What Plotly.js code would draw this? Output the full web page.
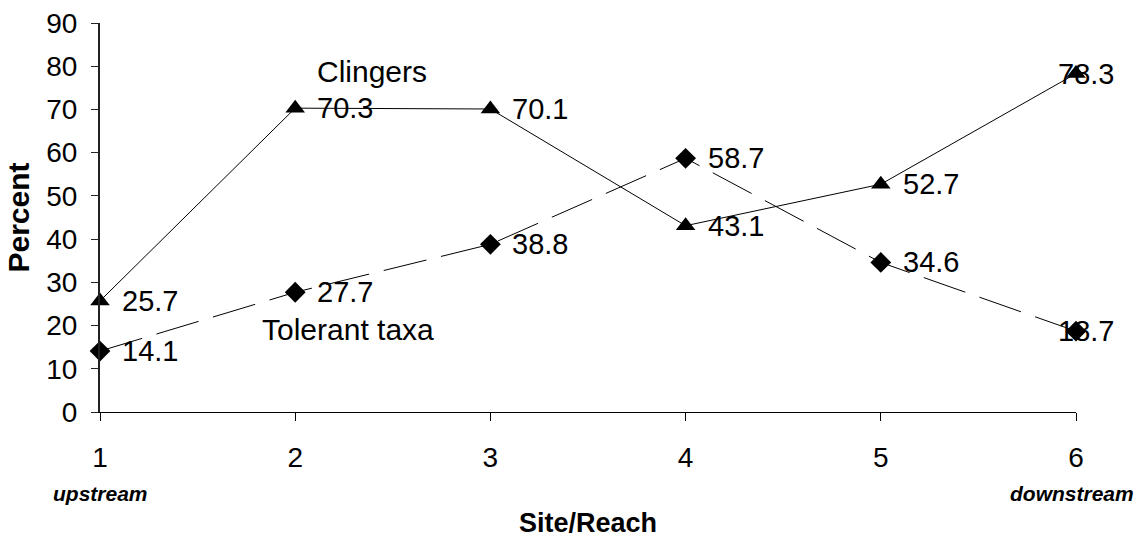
<!DOCTYPE html>
<html>
<head>
<meta charset="utf-8">
<script src="https://cdn.plot.ly/plotly-3.0.1.min.js"></script>
<style>html,body{margin:0;padding:0;background:#fff;}#chart{width:1144px;height:538px;}</style>
</head>
<body>
<div id="chart"></div>
<script>
const sites = [1, 2, 3, 4, 5, 6];
const clingers = [25.7, 70.3, 70.1, 43.1, 52.7, 78.3];
const tolerant = [14.1, 27.7, 38.8, 58.7, 34.6, 18.7];
const yTicks = [0, 10, 20, 30, 40, 50, 60, 70, 80, 90];

const FONT = 'Liberation Sans, Arial, sans-serif';

const traces = [
  {
    x: sites, y: clingers, mode: 'lines+markers', name: 'Clingers',
    line: {color: '#000', width: 1},
    marker: {symbol: 'triangle-up', size: 17, color: '#000'},
    cliponaxis: false, hoverinfo: 'skip'
  },
  {
    x: sites, y: tolerant, mode: 'lines+markers', name: 'Tolerant taxa',
    line: {color: '#000', width: 1, dash: '44px,15px'},
    marker: {symbol: 'diamond', size: 16, color: '#000'},
    cliponaxis: false, hoverinfo: 'skip'
  }
];

function valueLabels(series) {
  return series.map((v, i) => ({
    x: sites[i], y: v, xref: 'x', yref: 'y',
    text: v.toFixed(1), showarrow: false,
    xanchor: 'left', yanchor: 'middle',
    xshift: i === sites.length - 1 ? -20 : 20,
    font: {family: FONT, size: 29, color: '#000'}
  }));
}

const annotations = [
  ...valueLabels(clingers),
  ...valueLabels(tolerant),
  {x: 2.10, y: 78.7, xref: 'x', yref: 'y', text: 'Clingers', showarrow: false,
   xanchor: 'left', yanchor: 'middle', font: {family: FONT, size: 30, color: '#000'}},
  {x: 1.82, y: 19.2, xref: 'x', yref: 'y', text: 'Tolerant taxa', showarrow: false,
   xanchor: 'left', yanchor: 'middle', font: {family: FONT, size: 30, color: '#000'}},
  {x: 1, y: 0, xref: 'x', yref: 'paper', yshift: -81, text: '<b><i>upstream</i></b>', showarrow: false,
   xanchor: 'center', yanchor: 'middle', font: {family: FONT, size: 21, color: '#000'}},
  {x: 6, y: 0, xref: 'x', yref: 'paper', yshift: -81, xshift: -4, text: '<b><i>downstream</i></b>', showarrow: false,
   xanchor: 'center', yanchor: 'middle', font: {family: FONT, size: 21, color: '#000'}}
];

const layout = {
  width: 1144, height: 538,
  margin: {l: 100, r: 68, t: 23, b: 126},
  paper_bgcolor: '#fff', plot_bgcolor: '#fff',
  showlegend: false,
  font: {family: FONT, color: '#000'},
  xaxis: {
    range: [1, 6], tickvals: sites, ticktext: sites.map(String),
    showgrid: false, zeroline: false, showline: true, linecolor: '#000', linewidth: 1,
    ticks: 'outside', ticklen: 8, tickcolor: '#000', tickwidth: 1,
    tickfont: {family: FONT, size: 28, color: '#000'}, ticklabelstandoff: 12,
    title: {text: '<b>Site/Reach</b>', font: {family: FONT, size: 27, color: '#000'}, standoff: 44}
  },
  yaxis: {
    range: [0, 90], tickvals: yTicks, ticktext: yTicks.map(String),
    showgrid: false, zeroline: false, showline: true, linecolor: '#222', linewidth: 2,
    ticks: 'outside', ticklen: 7, tickcolor: '#222', tickwidth: 1,
    tickfont: {family: FONT, size: 28, color: '#000'}, ticklabelstandoff: 8,
    title: {text: '<b>Percent</b>', font: {family: FONT, size: 30, color: '#000'}, standoff: 8}
  },
  annotations: annotations
};

Plotly.newPlot('chart', traces, layout, {displayModeBar: false, staticPlot: true});
</script>
</body>
</html>
